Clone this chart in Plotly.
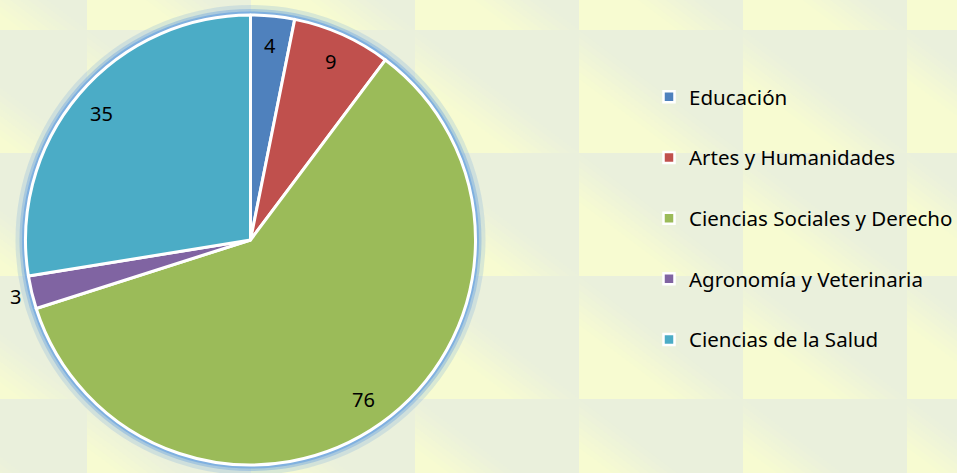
import math
import plotly.graph_objects as go

# ---- data ----
categories = ["Educación", "Artes y Humanidades", "Ciencias Sociales y Derecho",
              "Agronomía y Veterinaria", "Ciencias de la Salud"]
values = [4, 9, 76, 3, 35]
colors = ["#4F81BD", "#C0504D", "#9BBB59", "#8064A2", "#4BACC6"]

# ---- geometry (pixels) ----
W, H = 957, 473
CX, CY, R = 250.5, 240.0, 225.0          # pie centre / radius in px (y from top)
FONT = "'Noto Sans', 'Open Sans', sans-serif"


def px_to_paper(x, y):
    return x / W, 1 - y / H


fig = go.Figure()

# pie
fig.add_trace(go.Pie(
    labels=categories, values=values, sort=False, direction="clockwise", rotation=0,
    marker=dict(colors=colors, line=dict(color="white", width=3)),
    textinfo="none", hoverinfo="label+value", showlegend=False,
    domain=dict(x=[(CX - R) / W, (CX + R) / W], y=[1 - (CY + R) / H, 1 - (CY - R) / H]),
))

# legend entries (dummy traces built from categories)
for i, (cat, col) in enumerate(zip(categories, colors)):
    fig.add_trace(go.Scatter(
        x=[None], y=[None], mode="markers", name=cat, legendgroup=f"g{i}",
        marker=dict(symbol="square", size=11, color=col, line=dict(color="white", width=2.5)),
    ))

# value labels placed from data angles
total = sum(values)
annotations = []
cum = 0
for v in values:
    mid = (cum + v / 2) / total * 2 * math.pi
    cum += v
    rf = 1.075 if v / total < 0.03 else 0.87
    x = CX + rf * R * math.sin(mid)
    y = CY - rf * R * math.cos(mid)
    px, py = px_to_paper(x, y)
    annotations.append(dict(x=px, y=py, xref="paper", yref="paper", text=str(v),
                            showarrow=False, font=dict(family=FONT, size=20, color="#000"),
                            xanchor="center", yanchor="middle"))

# ---- background tiles with diagonal yellow->green gradient ----
green = (234, 240, 220)
yellow = (248, 252, 208)
TW, TH = 164, 123
X0, Y0 = 87, 30
shapes = []
steps = 8
for ci in range(-1, 6):
    for ri in range(-1, 4):
        xl = X0 + ci * TW
        yb = Y0 + (ri + 1) * TH   # bottom of tile (px from top)
        for k in range(steps):
            t = 1.0 - k * 0.45 / steps
            lv = (k + 0.5) / steps
            c = tuple(round(g + (yy - g) * lv) for g, yy in zip(green, yellow))
            pts = [(xl, yb), (xl + t * TW, yb), (xl, yb - t * TH)]
            path = "M " + " L ".join(f"{p[0] / W:.5f},{1 - p[1] / H:.5f}" for p in pts) + " Z"
            shapes.append(dict(type="path", path=path, xref="paper", yref="paper",
                               fillcolor=f"rgb{c}", line=dict(width=0), layer="below"))

# glow around pie
for extra, width, op in [(5, 10, 0.22), (3, 6, 0.4), (2, 3, 0.7)]:
    rr = R + extra
    shapes.append(dict(type="circle", xref="paper", yref="paper",
                       x0=(CX - rr) / W, x1=(CX + rr) / W,
                       y0=1 - (CY + rr) / H, y1=1 - (CY - rr) / H,
                       line=dict(color=f"rgba(110,165,225,{op})", width=width),
                       fillcolor="rgba(0,0,0,0)", layer="below"))

fig.update_layout(
    width=W, height=H, margin=dict(l=0, r=0, t=0, b=0, autoexpand=False),
    paper_bgcolor="rgb(234,240,220)", plot_bgcolor="rgba(0,0,0,0)",
    xaxis=dict(visible=False), yaxis=dict(visible=False),
    shapes=shapes, annotations=annotations,
    legend=dict(x=649 / W, y=1 - 77 / H, xanchor="left", yanchor="top",
                bgcolor="rgba(0,0,0,0)", tracegroupgap=31,
                font=dict(family=FONT, size=20.5, color="#000")),
    font=dict(family=FONT),
)

fig.write_html("out.html", config={"displayModeBar": False},
               post_script="document.body.style.margin='0';")
